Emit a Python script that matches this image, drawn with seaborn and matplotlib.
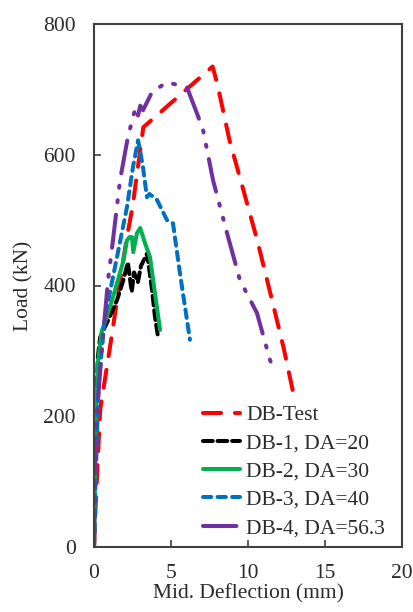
import matplotlib
matplotlib.use("Agg")
import matplotlib.pyplot as plt
import seaborn as sns
import pandas as pd

# Load-deflection responses (mid-span deflection in mm, load in kN)
test_x = [0, 0.1, 0.4, 0.7, 1.0, 1.5, 2.1, 2.5, 2.8, 3.0, 3.2, 7.7, 8.0, 8.8, 9.7, 10.6, 11.4, 12.3, 12.9]
test_y = [0, 60, 210, 255, 300, 378, 469, 520, 572, 607, 642, 735, 709, 622, 546, 469, 393, 306, 240]

db1_x = [0, 0.1, 0.25, 0.4, 0.84, 1.5, 1.9, 2.2, 2.45, 2.6, 2.85, 3.05, 3.45, 3.77, 3.96, 4.16]
db1_y = [0, 180, 290, 321, 343, 378, 408, 435, 390, 420, 405, 430, 449, 393, 352, 321]

db2_x = [0, 0.1, 0.25, 0.5, 0.8, 1.23, 1.9, 2.14, 2.3, 2.47, 2.55, 2.79, 3.0, 3.31, 3.64, 3.96, 4.29]
db2_y = [0, 170, 280, 330, 350, 382, 437, 469, 474, 474, 451, 480, 488, 465, 443, 388, 332]

db3_x = [0, 0.1, 0.3, 0.71, 1.49, 2.14, 2.53, 2.86, 2.99, 3.18, 3.44, 3.6, 4.09, 4.74, 5.13, 5.58, 6.23]
db3_y = [0, 100, 250, 352, 443, 520, 581, 622, 607, 581, 535, 540, 531, 500, 495, 419, 317]

db4_x = [0, 0.1, 0.5, 0.91, 1.23, 1.69, 2.2, 2.53, 2.7, 2.86, 3.0, 3.18, 3.77, 4.74, 6.04, 6.69, 7.08, 7.73, 8.64, 9.48, 10.58, 11.43, 11.6]
db4_y = [0, 175, 300, 408, 469, 561, 627, 657, 672, 660, 675, 668, 696, 711, 703, 663, 638, 561, 480, 408, 358, 286, 275]

labels = ["DB-Test", "DB-1, DA=20", "DB-2, DA=30", "DB-3, DA=40", "DB-4, DA=56.3"]
x_ticks = [0, 5, 10, 15, 20]
y_ticks = [0, 200, 400, 600, 800]

series = [(test_x, test_y), (db1_x, db1_y), (db2_x, db2_y), (db3_x, db3_y), (db4_x, db4_y)]
colors = ["#FF0000", "#000000", "#00B050", "#0070C0", "#7030A0"]
dash_styles = [(13, 10), (7, 3.5), (), (6, 4.5), (24, 9, 1.5, 9, 1.5, 9)]

sns.set_style("ticks")
plt.rcParams["font.family"] = ["Liberation Serif", "DejaVu Serif"]
plt.rcParams["lines.scale_dashes"] = False

FS = 15.5
TXT = "#2a2a2a"

fig = plt.figure(figsize=(4.14, 6.12), dpi=100)
ax = fig.add_axes([94 / 414, 1 - 547 / 612, (402 - 94) / 414, (547 - 24) / 612])

for (xs, ys), lab, col, ds in zip(series, labels, colors, dash_styles):
    df = pd.DataFrame({"Deflection": xs, "Load": ys})
    sns.lineplot(data=df, x="Deflection", y="Load", sort=False, estimator=None,
                 color=col, lw=2.9, label=lab, ax=ax)
    line = ax.get_lines()[-1]
    if ds:
        line.set_dashes(ds)
    line.set_dash_capstyle("round")
    line.set_solid_capstyle("round")

ax.set_xlim(0, 20)
ax.set_ylim(0, 800)
ax.set_xticks(x_ticks)
ax.set_yticks(y_ticks)
ax.tick_params(direction="in", length=5, width=1.2, colors="#404040",
               labelcolor=TXT, labelsize=FS, top=False, right=False)
ax.tick_params(axis="y", pad=13)
ax.tick_params(axis="x", pad=12)
for sp in ax.spines.values():
    sp.set_color("#404040")
    sp.set_linewidth(1.5)
    sp.set_visible(True)

ax.set_xlabel("Mid. Deflection (mm)", fontsize=FS, color=TXT, labelpad=1)
ax.set_ylabel("Load (kN)", fontsize=FS, color=TXT, labelpad=7)

leg = ax.legend(loc="upper left", frameon=False, fontsize=FS, handlelength=1.72,
                handletextpad=0.3, labelspacing=0.38, borderaxespad=0, borderpad=0,
                bbox_to_anchor=(203 / 414, 1 - 405 / 612), bbox_transform=fig.transFigure)
for t in leg.get_texts():
    t.set_color(TXT)

fig.savefig("out.png", dpi=100)
